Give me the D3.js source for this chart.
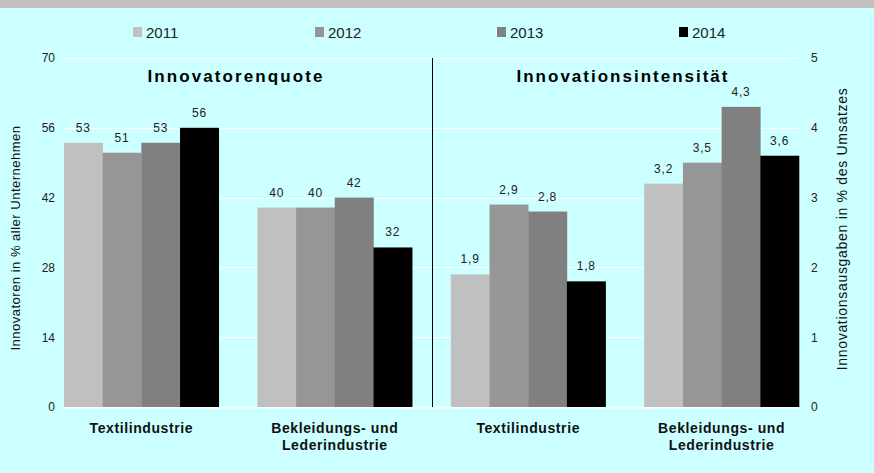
<!DOCTYPE html>
<html><head><meta charset="utf-8">
<script src="https://cdn.jsdelivr.net/npm/d3@7"></script>
<style>body{margin:0;background:#ccffff;}svg{display:block;}</style>
</head><body>
<script>
const years = ["2011","2012","2013","2014"];
const colors = ["#c0c0c0","#969696","#808080","#000000"];
const groups = ["Textilindustrie|L","Bekleidungs- und Lederindustrie|L","Textilindustrie|R","Bekleidungs- und Lederindustrie|R"];
const groupLabels = [["Textilindustrie"],["Bekleidungs- und","Lederindustrie"],["Textilindustrie"],["Bekleidungs- und","Lederindustrie"]];
const quoteTextil = [53,51,53,56];
const quoteBekleidung = [40,40,42,32];
const intensTextil = [1.9,2.9,2.8,1.8];
const intensBekleidung = [3.2,3.5,4.3,3.6];
const leftTicks = [0,14,28,42,56,70];
const rightTicks = [0,1,2,3,4,5];

const W=874,H=473;
const svg=d3.select("body").append("svg").attr("width",W).attr("height",H);
svg.append("rect").attr("width",W).attr("height",H).attr("fill","#ccffff");
svg.append("rect").attr("width",W).attr("height",8).attr("fill","#c0c0c0");

const x0=64,x1=799,yTop=58,yBot=407;
const xg=d3.scaleBand().domain(groups).range([x0,x1]).paddingInner(0.2).paddingOuter(0);
const xb=d3.scaleBand().domain(years).range([0,xg.bandwidth()]);
const yL=d3.scaleLinear().domain([0,70]).range([yBot,yTop]);
const yR=d3.scaleLinear().domain([0,5]).range([yBot,yTop]);

// gridlines
svg.append("g").selectAll("line").data(leftTicks).join("line")
  .attr("x1",x0).attr("x2",x1).attr("y1",d=>Math.round(yL(d))+0.5).attr("y2",d=>Math.round(yL(d))+0.5)
  .attr("stroke","#ffffff").attr("stroke-width",d=>d===0?2:1.2);

const series=[
 {g:groups[0],vals:quoteTextil,y:yL,fmt:d=>d3.format("d")(d)},
 {g:groups[1],vals:quoteBekleidung,y:yL,fmt:d=>d3.format("d")(d)},
 {g:groups[2],vals:intensTextil,y:yR,fmt:d=>d3.format(".1f")(d).replace(".",",")},
 {g:groups[3],vals:intensBekleidung,y:yR,fmt:d=>d3.format(".1f")(d).replace(".",",")}
];
series.forEach(s=>{
  const g=svg.append("g").attr("transform",`translate(${xg(s.g)},0)`);
  g.selectAll("rect").data(s.vals).join("rect")
    .attr("x",(d,i)=>xb(years[i])).attr("width",xb.bandwidth()+0.3)
    .attr("y",d=>s.y(d)).attr("height",d=>yBot-s.y(d))
    .attr("fill",(d,i)=>colors[i]);
  g.selectAll("text").data(s.vals).join("text")
    .attr("x",(d,i)=>xb(years[i])+xb.bandwidth()/2).attr("y",d=>s.y(d)-11)
    .attr("text-anchor","middle").attr("font-family","Liberation Sans, Arial").attr("font-size",12)
    .attr("letter-spacing","0.8px").attr("fill","#222").text(d=>s.fmt(d));
});

// divider
const xDiv=(xg(groups[1])+xg.bandwidth()+xg(groups[2]))/2;
svg.append("line").attr("x1",Math.round(xDiv)+0.5).attr("x2",Math.round(xDiv)+0.5).attr("y1",yTop).attr("y2",yBot)
  .attr("stroke","#000").attr("stroke-width",1);

// axes ticks
const lAxis=svg.append("g").attr("transform",`translate(${x0-9},0)`).call(d3.axisLeft(yL).tickValues(leftTicks).tickSize(0).tickPadding(0).tickFormat(d3.format("d")));
const rAxis=svg.append("g").attr("transform",`translate(${x1+12},0)`).call(d3.axisRight(yR).tickValues(rightTicks).tickSize(0).tickPadding(0).tickFormat(d3.format("d")));
[lAxis,rAxis].forEach(a=>{a.select(".domain").remove();a.selectAll("text").attr("font-family","Liberation Sans, Arial").attr("font-size",12).attr("fill","#222");});

// titles
svg.append("text").attr("x",236).attr("y",82).attr("text-anchor","middle")
  .attr("font-family","Liberation Sans, Arial").attr("font-weight","bold").attr("font-size",17).attr("letter-spacing","2.1px").text("Innovatorenquote");
svg.append("text").attr("x",623).attr("y",82).attr("text-anchor","middle")
  .attr("font-family","Liberation Sans, Arial").attr("font-weight","bold").attr("font-size",17).attr("letter-spacing","2.0px").text("Innovationsintensität");

// axis titles
svg.append("text").attr("transform","translate(20,238) rotate(-90)").attr("text-anchor","middle")
  .attr("font-family","Liberation Sans, Arial").attr("font-size",13).attr("letter-spacing","0.5px").attr("fill","#111").text("Innovatoren in % aller Unternehmen");
svg.append("text").attr("transform","translate(847,229) rotate(-90)").attr("text-anchor","middle")
  .attr("font-family","Liberation Sans, Arial").attr("font-size",14).attr("letter-spacing","0.7px").attr("fill","#111").text("Innovationsausgaben in % des Umsatzes");

// category labels
groups.forEach((gk,i)=>{
  const cx=xg(gk)+xg.bandwidth()/2;
  const t=svg.append("text").attr("x",cx).attr("y",433).attr("text-anchor","middle")
   .attr("font-family","Liberation Sans, Arial").attr("font-weight","bold").attr("font-size",14).attr("letter-spacing","0.6px").attr("fill","#111");
  groupLabels[i].forEach((l,j)=>t.append("tspan").attr("x",cx).attr("dy",j?17:0).text(l));
});

// legend
const legX=[133,315,497,679];
const leg=svg.append("g");
years.forEach((yr,i)=>{
  leg.append("rect").attr("x",legX[i]).attr("y",27).attr("width",9).attr("height",10).attr("fill",colors[i]);
  leg.append("text").attr("x",legX[i]+13).attr("y",38).attr("font-family","Liberation Sans, Arial").attr("font-size",15).attr("fill","#222").text(yr);
});
</script>
</body></html>
